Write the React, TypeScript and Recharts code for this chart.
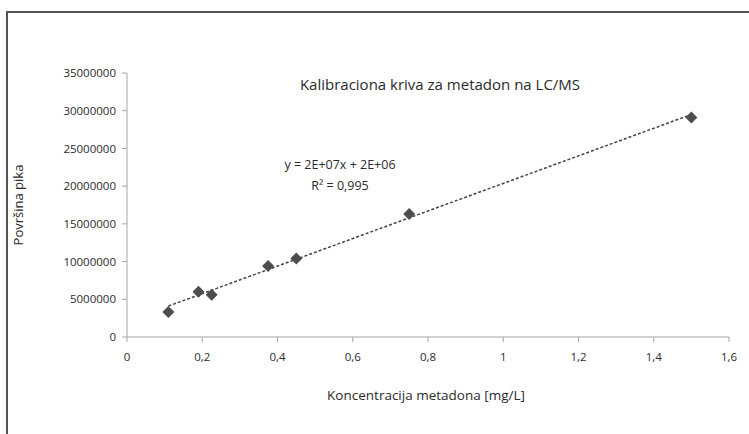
import React from 'react';
import { ScatterChart, Scatter, XAxis, YAxis } from 'recharts';

// measured points: concentration [mg/L] vs peak area
const concentrations = [0.11, 0.19, 0.225, 0.375, 0.45, 0.75, 1.5];
const peakAreas = [3300000, 6000000, 5600000, 9400000, 10400000, 16300000, 29100000];

// linear trend line endpoints
const trendX = [0.11, 1.5];
const trendY = [4100000, 29500000];

const xTicks = [0, 0.2, 0.4, 0.6, 0.8, 1, 1.2, 1.4, 1.6];
const yTicks = [0, 5000000, 10000000, 15000000, 20000000, 25000000, 30000000, 35000000];

const points = concentrations.map((x, i) => ({ x, y: peakAreas[i] }));
const trend = trendX.map((x, i) => ({ x, y: trendY[i] }));

const font = "'Open Sans', 'Noto Sans', sans-serif";
const textColor = '#2b2b2b';
const axisColor = '#a6a6a6';

const Diamond = (props: any) => {
  const { cx, cy } = props;
  const r = 6;
  return (
    <polygon
      points={`${cx},${cy - r} ${cx + r},${cy} ${cx},${cy + r} ${cx - r},${cy}`}
      fill="#4d4d4d"
    />
  );
};

export default function App() {
  return (
    <div style={{ position: 'absolute', left: 0, top: 0, width: 749, height: 434, background: '#fff', fontFamily: font }}>
      <div style={{ position: 'absolute', left: 6, top: 11, width: 760, height: 440, borderTop: '2px solid #555', borderLeft: '2px solid #555' }} />
      <ScatterChart width={749} height={434} margin={{ top: 73, right: 20, left: 0, bottom: 0 }}>
        <XAxis
          type="number"
          dataKey="x"
          domain={[0, 1.6]}
          ticks={xTicks}
          height={97}
          stroke={axisColor}
          tickSize={5}
          tickMargin={11}
          tick={{ fill: textColor, fontSize: 11.5, fontFamily: font }}
          tickFormatter={(v: number) => String(v).replace('.', ',')}
        />
        <YAxis
          type="number"
          dataKey="y"
          domain={[0, 35000000]}
          ticks={yTicks}
          width={127}
          stroke={axisColor}
          tickSize={5}
          tickMargin={6}
          tick={{ fill: textColor, fontSize: 11.5, fontFamily: font }}
        />
        <Scatter
          data={trend}
          line={{ stroke: '#444', strokeWidth: 1.5, strokeDasharray: '3 2' }}
          shape={() => null}
          isAnimationActive={false}
        />
        <Scatter data={points} shape={<Diamond />} isAnimationActive={false} />
      </ScatterChart>
      <div style={{ position: 'absolute', left: 240, top: 74, width: 400, textAlign: 'center', fontSize: 15, color: textColor }}>
        Kalibraciona kriva za metadon na LC/MS
      </div>
      <div style={{ position: 'absolute', left: 240, top: 154, width: 200, textAlign: 'center', fontSize: 12.5, color: textColor, lineHeight: '21px' }}>
        y = 2E+07x + 2E+06
        <br />
        R² = 0,995
      </div>
      <div style={{ position: 'absolute', left: 226, top: 386, width: 400, textAlign: 'center', fontSize: 13.5, color: textColor }}>
        Koncentracija metadona [mg/L]
      </div>
      <div style={{ position: 'absolute', left: 18, top: 205, width: 0, height: 0 }}>
        <div style={{ position: 'absolute', transform: 'translate(-50%, -50%) rotate(-90deg)', whiteSpace: 'nowrap', fontSize: 13, color: textColor }}>
          Površina pika
        </div>
      </div>
    </div>
  );
}
